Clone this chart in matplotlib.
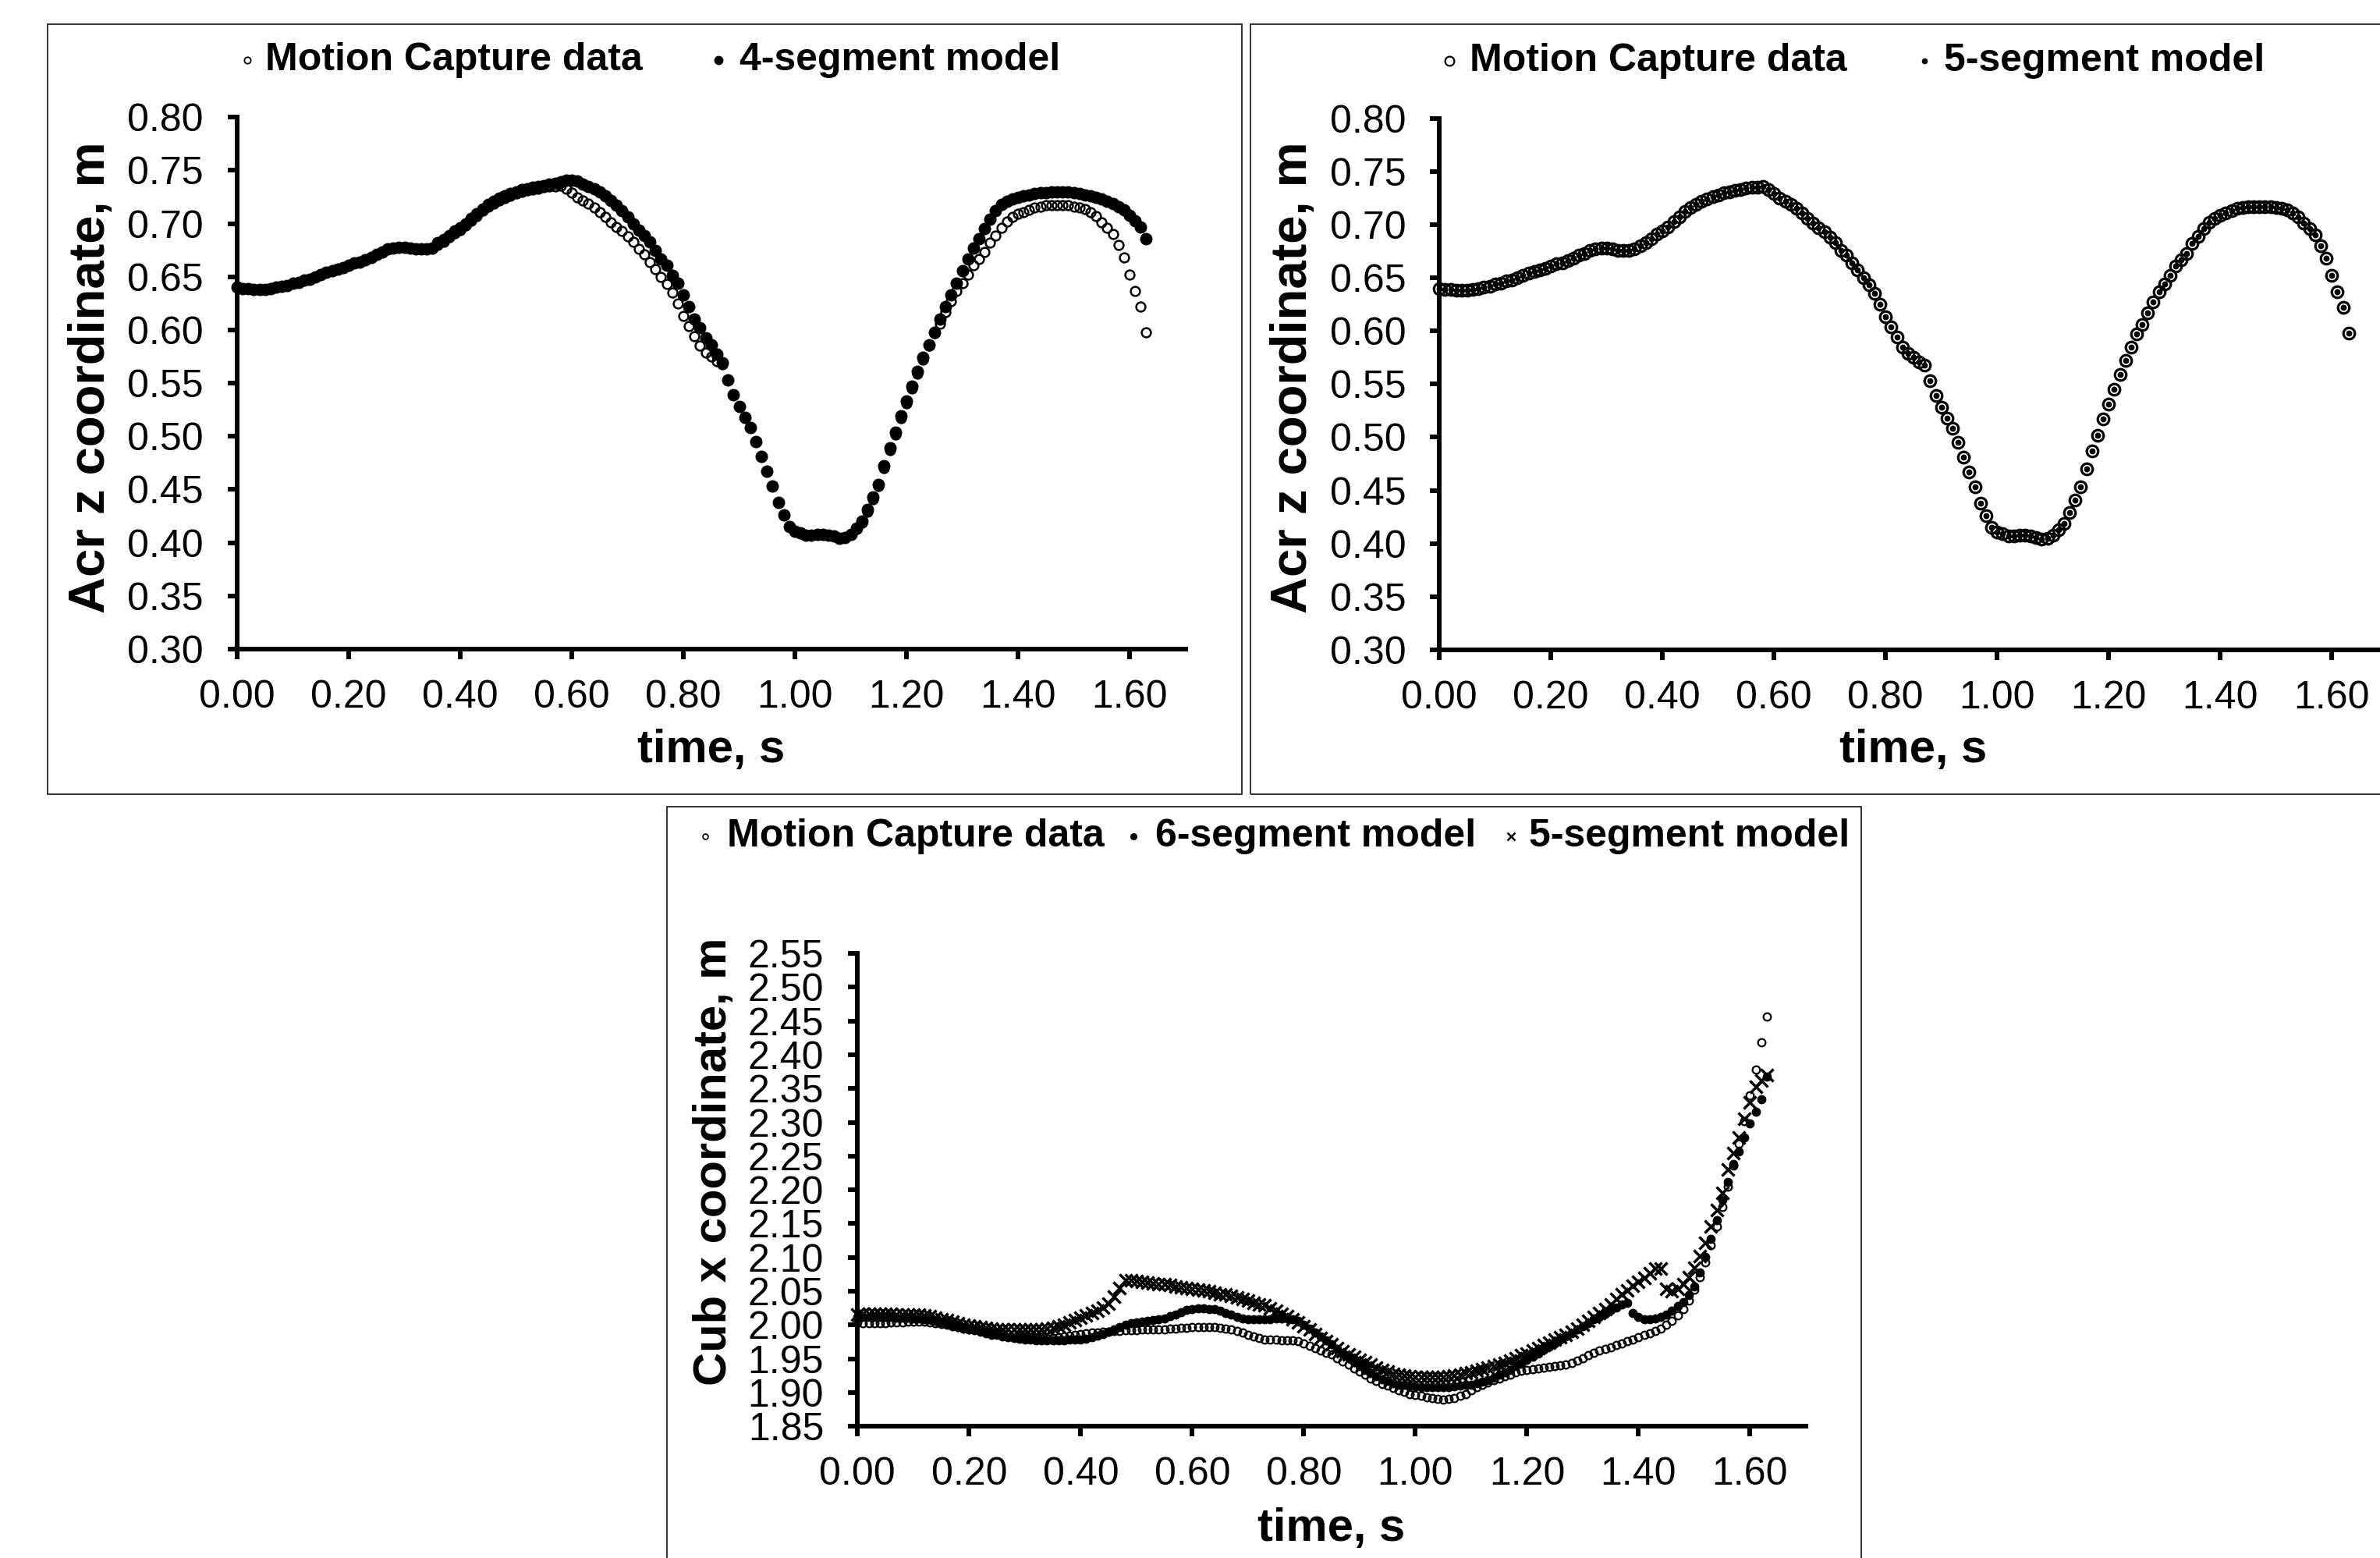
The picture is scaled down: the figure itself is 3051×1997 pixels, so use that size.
import numpy as np
import matplotlib
matplotlib.use('Agg')
import matplotlib.pyplot as plt
from matplotlib.lines import Line2D
from matplotlib.patches import Rectangle
from matplotlib.ticker import MultipleLocator, FormatStrFormatter

plt.rcParams['font.family'] = ['Liberation Sans', 'DejaVu Sans']

# time grid, 100 Hz
t = np.round(np.arange(164) * 0.01, 2)

# Acr z coordinate (m), motion capture
mocap_acr = [
    0.640, 0.639, 0.639, 0.638, 0.638, 0.638, 0.639, 0.640, 0.641, 0.642,
    0.644, 0.645, 0.647, 0.648, 0.650, 0.652, 0.654, 0.656, 0.657, 0.659,
    0.661, 0.663, 0.664, 0.666, 0.668, 0.671, 0.673, 0.676, 0.677, 0.678,
    0.678, 0.677, 0.676, 0.676, 0.676, 0.677, 0.680, 0.683, 0.687, 0.691,
    0.694, 0.698, 0.703, 0.707, 0.712, 0.716, 0.719, 0.722, 0.724, 0.726,
    0.728, 0.730, 0.731, 0.732, 0.733, 0.734, 0.735, 0.735, 0.736, 0.733,
    0.729, 0.725, 0.722, 0.719, 0.715, 0.711, 0.706, 0.701, 0.697, 0.693,
    0.688, 0.683, 0.676, 0.671, 0.664, 0.657, 0.650, 0.643, 0.635, 0.625,
    0.613, 0.604, 0.594, 0.585, 0.579, 0.575, 0.571, 0.568, 0.553, 0.539,
    0.528, 0.518, 0.508, 0.495, 0.481, 0.467, 0.453, 0.438, 0.426, 0.415,
    0.411, 0.409, 0.407, 0.407, 0.408, 0.408, 0.407, 0.406, 0.404, 0.405,
    0.408, 0.413, 0.419, 0.429, 0.441, 0.453, 0.470, 0.487, 0.502, 0.517,
    0.531, 0.545, 0.559, 0.572, 0.585, 0.597, 0.606, 0.617, 0.627, 0.637,
    0.644, 0.652, 0.661, 0.667, 0.673, 0.682, 0.689, 0.696, 0.702, 0.706,
    0.709, 0.711, 0.713, 0.715, 0.716, 0.717, 0.717, 0.717, 0.717, 0.717,
    0.716, 0.715, 0.714, 0.711, 0.707, 0.701, 0.696, 0.690, 0.680, 0.668,
    0.652, 0.637, 0.622, 0.598,
]

# Acr z coordinate (m), 4-segment model
four_seg_acr = [
    0.640, 0.639, 0.639, 0.638, 0.638, 0.638, 0.639, 0.640, 0.641, 0.642,
    0.644, 0.645, 0.647, 0.648, 0.650, 0.652, 0.654, 0.656, 0.657, 0.659,
    0.661, 0.663, 0.664, 0.666, 0.668, 0.671, 0.673, 0.676, 0.677, 0.678,
    0.678, 0.677, 0.676, 0.676, 0.676, 0.677, 0.682, 0.685, 0.689, 0.693,
    0.696, 0.700, 0.705, 0.709, 0.714, 0.718, 0.721, 0.724, 0.726, 0.728,
    0.730, 0.732, 0.733, 0.734, 0.735, 0.736, 0.737, 0.738, 0.739, 0.741,
    0.741, 0.740, 0.737, 0.735, 0.733, 0.730, 0.726, 0.722, 0.717, 0.712,
    0.706, 0.700, 0.694, 0.689, 0.683, 0.675, 0.667, 0.661, 0.651, 0.644,
    0.633, 0.622, 0.610, 0.602, 0.593, 0.586, 0.577, 0.569, 0.553, 0.539,
    0.528, 0.518, 0.508, 0.495, 0.481, 0.467, 0.453, 0.438, 0.426, 0.415,
    0.411, 0.409, 0.407, 0.407, 0.408, 0.408, 0.407, 0.406, 0.404, 0.405,
    0.408, 0.414, 0.420, 0.431, 0.443, 0.455, 0.472, 0.489, 0.504, 0.519,
    0.533, 0.547, 0.561, 0.574, 0.586, 0.598, 0.610, 0.622, 0.633, 0.644,
    0.656, 0.667, 0.677, 0.686, 0.695, 0.704, 0.712, 0.718, 0.721, 0.723,
    0.725, 0.726, 0.727, 0.728, 0.729, 0.729, 0.730, 0.730, 0.730, 0.730,
    0.729, 0.728, 0.727, 0.726, 0.725, 0.723, 0.721, 0.719, 0.716, 0.713,
    0.708, 0.703, 0.697, 0.686,
]

# the 5-segment model sits on top of the capture data in the picture
five_seg_acr = list(mocap_acr)

# Cub x coordinate (m)
mocap_cub = [
    2.004, 2.003, 2.003, 2.003, 2.003, 2.003, 2.004, 2.004, 2.004, 2.005,
    2.005, 2.005, 2.005, 2.004, 2.003, 2.002, 2.000, 1.998, 1.997, 1.995,
    1.994, 1.993, 1.992, 1.991, 1.990, 1.989, 1.988, 1.987, 1.985, 1.984,
    1.983, 1.982, 1.981, 1.981, 1.981, 1.981, 1.982, 1.983, 1.984, 1.986,
    1.987, 1.988, 1.989, 1.989, 1.990, 1.990, 1.991, 1.991, 1.992, 1.992,
    1.992, 1.993, 1.993, 1.993, 1.994, 1.994, 1.995, 1.995, 1.996, 1.996,
    1.997, 1.997, 1.997, 1.997, 1.997, 1.996, 1.995, 1.993, 1.991, 1.989,
    1.986, 1.983, 1.981, 1.979, 1.978, 1.978, 1.977, 1.977, 1.977, 1.976,
    1.973, 1.969, 1.966, 1.962, 1.959, 1.956, 1.951, 1.946, 1.941, 1.936,
    1.931, 1.926, 1.921, 1.917, 1.913, 1.910, 1.907, 1.904, 1.901, 1.898,
    1.896, 1.895, 1.893, 1.892, 1.891, 1.890, 1.891, 1.892, 1.895, 1.898,
    1.903, 1.908, 1.912, 1.915, 1.918, 1.921, 1.924, 1.927, 1.930, 1.932,
    1.934, 1.935, 1.936, 1.937, 1.938, 1.939, 1.940, 1.942, 1.944, 1.947,
    1.951, 1.955, 1.959, 1.962, 1.965, 1.967, 1.970, 1.973, 1.976, 1.979,
    1.982, 1.985, 1.988, 1.991, 1.995, 2.000, 2.006, 2.014, 2.024, 2.036,
    2.052, 2.071, 2.093, 2.118, 2.146, 2.175, 2.205, 2.236, 2.268, 2.302,
    2.340, 2.378, 2.418, 2.457,
]

six_seg_cub = [
    2.012, 2.012, 2.012, 2.012, 2.012, 2.012, 2.012, 2.011, 2.011, 2.011,
    2.010, 2.010, 2.009, 2.008, 2.006, 2.004, 2.002, 2.000, 1.998, 1.996,
    1.994, 1.992, 1.990, 1.988, 1.986, 1.985, 1.983, 1.982, 1.981, 1.980,
    1.979, 1.978, 1.977, 1.977, 1.977, 1.977, 1.977, 1.977, 1.978, 1.978,
    1.979, 1.980, 1.982, 1.984, 1.987, 1.990, 1.993, 1.997, 2.000, 2.003,
    2.004, 2.005, 2.006, 2.007, 2.008, 2.010, 2.013, 2.016, 2.019, 2.022,
    2.024, 2.025, 2.025, 2.024, 2.023, 2.021, 2.018, 2.015, 2.012, 2.010,
    2.009, 2.008, 2.008, 2.008, 2.009, 2.010, 2.010, 2.010, 2.009, 2.006,
    2.001, 1.995, 1.989, 1.983, 1.977, 1.971, 1.965, 1.958, 1.952, 1.945,
    1.939, 1.934, 1.929, 1.924, 1.920, 1.917, 1.914, 1.912, 1.911, 1.910,
    1.909, 1.908, 1.908, 1.908, 1.908, 1.908, 1.908, 1.909, 1.910, 1.911,
    1.912, 1.914, 1.916, 1.919, 1.922, 1.926, 1.930, 1.934, 1.939, 1.943,
    1.948, 1.953, 1.958, 1.963, 1.968, 1.973, 1.978, 1.983, 1.988, 1.993,
    1.998, 2.003, 2.008, 2.012, 2.017, 2.022, 2.026, 2.030, 2.033, 2.018,
    2.012, 2.009, 2.009, 2.010, 2.012, 2.016, 2.021, 2.028, 2.034, 2.044,
    2.057, 2.078, 2.101, 2.128, 2.155, 2.185, 2.212, 2.238, 2.257, 2.278,
    2.298, 2.316, 2.334, 2.368,
]

five_seg_cub = [
    2.016, 2.017, 2.017, 2.017, 2.017, 2.017, 2.017, 2.016, 2.016, 2.016,
    2.015, 2.015, 2.014, 2.013, 2.011, 2.009, 2.007, 2.005, 2.003, 2.001,
    1.999, 1.998, 1.997, 1.996, 1.995, 1.994, 1.994, 1.993, 1.993, 1.993,
    1.993, 1.993, 1.993, 1.994, 1.995, 1.996, 1.998, 2.001, 2.004, 2.007,
    2.011, 2.014, 2.018, 2.021, 2.026, 2.032, 2.042, 2.055, 2.066, 2.066,
    2.065, 2.064, 2.063, 2.062, 2.061, 2.060, 2.059, 2.057, 2.056, 2.055,
    2.053, 2.052, 2.051, 2.050, 2.048, 2.046, 2.045, 2.043, 2.041, 2.039,
    2.036, 2.033, 2.031, 2.029, 2.025, 2.021, 2.017, 2.013, 2.009, 2.004,
    1.998, 1.993, 1.987, 1.981, 1.976, 1.971, 1.966, 1.961, 1.957, 1.953,
    1.949, 1.945, 1.941, 1.937, 1.934, 1.931, 1.928, 1.926, 1.925, 1.924,
    1.923, 1.923, 1.923, 1.923, 1.923, 1.923, 1.924, 1.925, 1.927, 1.929,
    1.930, 1.932, 1.935, 1.937, 1.939, 1.941, 1.944, 1.947, 1.951, 1.955,
    1.958, 1.962, 1.966, 1.970, 1.974, 1.978, 1.982, 1.986, 1.990, 1.995,
    2.000, 2.006, 2.012, 2.018, 2.024, 2.031, 2.038, 2.045, 2.051, 2.058,
    2.064, 2.070, 2.077, 2.083, 2.084, 2.054, 2.050, 2.054, 2.061, 2.071,
    2.085, 2.102, 2.122, 2.146, 2.170, 2.195, 2.230, 2.255, 2.278, 2.305,
    2.330, 2.352, 2.362, 2.370,
]

W, H = 3051, 1997
fig = plt.figure(figsize=(W / 100, H / 100), dpi=100)


def fx(px):
    return px / W


def fy(py):
    return 1 - py / H


def panel_axes(left, top, right, bottom):
    return fig.add_axes([fx(left), fy(bottom), fx(right - left), (bottom - top) / H])


def style_axes(ax, ymin, ymax):
    ax.set_xlim(0, 1.7)
    ax.set_ylim(ymin, ymax)
    ax.yaxis.set_major_locator(MultipleLocator(0.05))
    ax.xaxis.set_major_formatter(FormatStrFormatter('%.2f'))
    ax.yaxis.set_major_formatter(FormatStrFormatter('%.2f'))
    ax.set_xticks(np.round(np.arange(0, 1.61, 0.2), 2))
    for s in ['top', 'right']:
        ax.spines[s].set_visible(False)
    for s in ['left', 'bottom']:
        ax.spines[s].set_linewidth(4.3)
    ax.tick_params(axis='both', direction='out', length=9, width=4.3, labelsize=36)
    ax.tick_params(axis='x', pad=19)
    ax.tick_params(axis='y', pad=22)


def box(left, top, right, bottom):
    fig.add_artist(Rectangle((fx(left), fy(bottom)), fx(right - left), (bottom - top) / H,
                             transform=fig.transFigure, fill=False, edgecolor='#222222', linewidth=1.3))


def legend_entry(mx, my, label, tx, **mk):
    fig.add_artist(Line2D([fx(mx)], [fy(my)], transform=fig.transFigure, linestyle='none', **mk))
    fig.text(fx(tx), fy(my), label, ha='left', va='center', fontsize=36, fontweight='bold')


def labels(xlab, xlx, xly, ylab, ylx, yly, ysize):
    fig.text(fx(xlx), fy(xly), xlab, ha='center', va='center', fontsize=43, fontweight='bold')
    fig.text(fx(ylx), fy(yly), ylab, ha='center', va='center', rotation=90,
             fontsize=ysize, fontweight='bold')


open_c = dict(marker='o', mfc='none', mec='black')
fill_c = dict(marker='o', mfc='black', mec='black')

# ---- panel 1: 4-segment model
box(61, 31, 1592, 1018)
ax1 = panel_axes(304, 150.3, 1519.5, 832)
ax1.plot(t, mocap_acr, linestyle='none', ms=8.5, mew=1.8, clip_on=False, **open_c)
ax1.plot(t, four_seg_acr, linestyle='none', ms=10.5, clip_on=False, **fill_c)
style_axes(ax1, 0.30, 0.80)
labels('time, s', 912, 961, 'Acr z coordinate, m', 117, 484, 47)
legend_entry(317, 77, 'Motion Capture data', 340, ms=6, mew=1.3, **open_c)
legend_entry(921, 77, '4-segment model', 948, ms=7.5, **fill_c)

# ---- panel 2: 5-segment model (cut off at the right edge)
box(1603, 31, 3134, 1018)
ax2 = panel_axes(1845.2, 151.5, 3060.7, 833)
ax2.plot(t, mocap_acr, linestyle='none', ms=10.5, mew=2.3, clip_on=False, **open_c)
ax2.plot(t, five_seg_acr, linestyle='none', ms=4.6, clip_on=False, **fill_c)
style_axes(ax2, 0.30, 0.80)
labels('time, s', 2453, 961, 'Acr z coordinate, m', 1658, 484, 47)
legend_entry(1858, 78, 'Motion Capture data', 1884, ms=8.5, mew=1.6, **open_c)
legend_entry(2467, 78, '5-segment model', 2492, ms=4.5, **fill_c)

# ---- panel 3: Cub x coordinate
box(855, 1034, 2386, 2010)
ax3 = panel_axes(1099.3, 1222, 2315, 1828.3)
ax3.plot(t, mocap_cub, linestyle='none', ms=7, mew=1.6, clip_on=False, **open_c)
ax3.plot(t, six_seg_cub, linestyle='none', ms=7.5, clip_on=False, **fill_c)
ax3.plot(t, five_seg_cub, linestyle='none', marker='x', color='black', ms=11, mew=2.5, clip_on=False)
style_axes(ax3, 1.85, 2.55)
labels('time, s', 1707, 1960, 'Cub x coordinate, m', 915, 1489, 43)
legend_entry(904, 1072, 'Motion Capture data', 932, ms=5, mew=1.2, **open_c)
legend_entry(1453, 1072, '6-segment model', 1481, ms=5.5, **fill_c)
legend_entry(1937, 1072, '5-segment model', 1960, marker='x', color='black', ms=7, mew=1.8)

fig.savefig('out.png', dpi=100)
